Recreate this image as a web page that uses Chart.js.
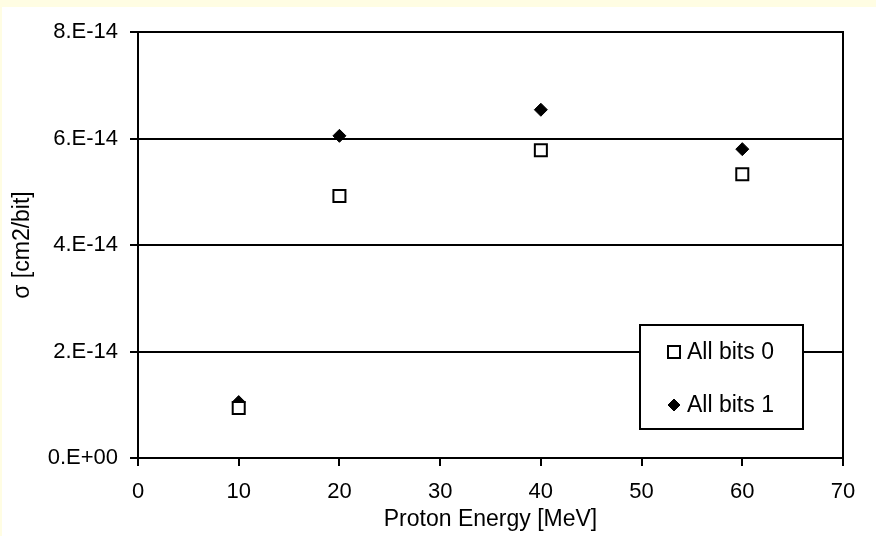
<!DOCTYPE html>
<html>
<head>
<meta charset="utf-8">
<script src="https://cdn.jsdelivr.net/npm/chart.js@4.4.0/dist/chart.umd.min.js"></script>
<style>
  html, body { margin: 0; padding: 0; background: #ffffff; }
  #wrap { width: 876px; height: 536px; position: relative; }
</style>
</head>
<body>
<div id="wrap"><canvas id="c" width="876" height="536"></canvas></div>
<script>
// ---- data ----
const energies = [10, 20, 40, 60];
const allBits0 = [0.94e-14, 4.92e-14, 5.78e-14, 5.33e-14];
const allBits1 = [1.05e-14, 6.05e-14, 6.54e-14, 5.80e-14];
const seriesLabels = ['All bits 0', 'All bits 1'];
const yTickLabels = { 0: '0.E+00', 2: '2.E-14', 4: '4.E-14', 6: '6.E-14', 8: '8.E-14' };
const xTitle = 'Proton Energy [MeV]';
const yTitle = 'σ [cm2/bit]';

const FONT = 'Arial, "Liberation Sans", sans-serif';

const bgPlugin = {
  id: 'bg',
  beforeDraw(chart) {
    const ctx = chart.ctx;
    ctx.save();
    ctx.fillStyle = '#ffffff';
    ctx.fillRect(0, 0, chart.width, chart.height);
    ctx.fillStyle = '#fffde3';
    ctx.fillRect(0, 0, chart.width, 7);
    ctx.fillRect(0, 0, 2, chart.height);
    ctx.restore();
  },
  afterDatasetsDraw(chart) {
    const {ctx, chartArea: a} = chart;
    ctx.save();
    ctx.strokeStyle = '#000';
    ctx.lineWidth = 2;
    ctx.strokeRect(a.left, a.top, a.right - a.left, a.bottom - a.top);
    ctx.restore();
  }
};

const legendPlugin = {
  id: 'boxLegend',
  afterDraw(chart) {
    const {ctx, chartArea: a} = chart;
    const w = 163, h = 104;
    const x0 = a.right - 40 - w, y0 = a.bottom - 29 - h;
    ctx.save();
    ctx.fillStyle = '#fff';
    ctx.fillRect(x0, y0, w, h);
    ctx.strokeStyle = '#000';
    ctx.lineWidth = 2;
    ctx.strokeRect(x0, y0, w, h);
    ctx.font = '23px ' + FONT;
    ctx.textBaseline = 'middle';
    chart.data.datasets.forEach((ds, i) => {
      const cy = y0 + 27 + i * 53;
      const mx = x0 + 34;
      ctx.fillStyle = ds.backgroundColor;
      ctx.strokeStyle = ds.borderColor;
      ctx.lineWidth = ds.borderWidth;
      ctx.beginPath();
      if (ds.pointStyle === 'rect') {
        ctx.rect(mx - 6, cy - 6, 12, 12);
      } else {
        ctx.moveTo(mx - 6, cy); ctx.lineTo(mx, cy - 6); ctx.lineTo(mx + 6, cy); ctx.lineTo(mx, cy + 6); ctx.closePath();
      }
      ctx.fill(); ctx.stroke();
      ctx.fillStyle = '#000';
      ctx.fillText(ds.label, mx + 13, cy + 1);
    });
    ctx.restore();
  }
};

new Chart(document.getElementById('c'), {
  type: 'scatter',
  data: {
    datasets: [
      {
        label: seriesLabels[0],
        data: energies.map((x, i) => ({x, y: allBits0[i]})),
        pointStyle: 'rect',
        pointRadius: 8.5,
        pointHoverRadius: 8.5,
        backgroundColor: '#ffffff',
        borderColor: '#000000',
        borderWidth: 2
      },
      {
        label: seriesLabels[1],
        data: energies.map((x, i) => ({x, y: allBits1[i]})),
        pointStyle: 'rectRot',
        pointRadius: 6.5,
        pointHoverRadius: 6.5,
        backgroundColor: '#000000',
        borderColor: '#000000',
        borderWidth: 1
      }
    ]
  },
  options: {
    responsive: false,
    animation: false,
    events: [],
    layout: { padding: { left: 0, top: 32, right: 33, bottom: 0 } },
    plugins: { legend: { display: false }, tooltip: { enabled: false } },
    scales: {
      x: {
        type: 'linear',
        min: 0, max: 70,
        ticks: { stepSize: 10, color: '#000', font: { family: FONT, size: 22 }, padding: 13, maxRotation: 0 },
        grid: { display: true, drawOnChartArea: false, drawTicks: true, tickLength: 8, tickColor: '#000', tickWidth: 2, color: '#000', lineWidth: 2 },
        border: { display: true, color: '#000', width: 2 },
        title: { display: true, text: xTitle, color: '#000', font: { family: FONT, size: 23 }, padding: { top: 0, bottom: 3 } },
        afterFit(s) { s.height = 78; }
      },
      y: {
        type: 'linear',
        min: 0, max: 8e-14,
        ticks: {
          stepSize: 2e-14, color: '#000', font: { family: FONT, size: 22 }, padding: 12,
          callback: (v) => yTickLabels[Math.round(v / 1e-14)]
        },
        grid: { display: true, drawTicks: true, tickLength: 8, color: '#000', lineWidth: 2, tickColor: '#000', tickWidth: 2 },
        border: { display: true, color: '#000', width: 2 },
        title: { display: true, text: yTitle, color: '#000', font: { family: FONT, size: 23 }, padding: { top: 9, bottom: 0 } },
        afterFit(s) { s.width = 138; }
      }
    }
  },
  plugins: [bgPlugin, legendPlugin]
});
</script>
</body>
</html>
